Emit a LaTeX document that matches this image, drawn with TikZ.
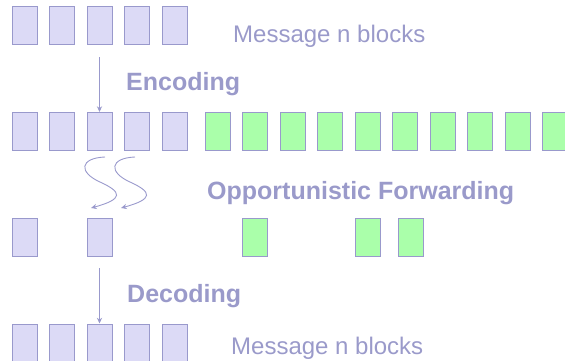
\documentclass[tikz,border=0pt]{standalone}
\usepackage{fontspec}
\setmainfont{Liberation Sans}
\usetikzlibrary{arrows.meta}
\definecolor{blockLine}{HTML}{9999CC}
\definecolor{blockFill}{HTML}{DCDAF6}
\definecolor{codeFill}{HTML}{AAFFAA}
\definecolor{labelText}{HTML}{9A9ACA}

\begin{document}
\begin{tikzpicture}[x=1pt, y=-1pt,
    bloque/.style={draw=blockLine, fill=blockFill, line width=1pt,
                   minimum width=25pt, minimum height=38pt, inner sep=0pt},
    cod/.style={bloque, fill=codeFill},
    rot/.style={anchor=base west, inner sep=0pt, text=labelText,
                font=\fontsize{24}{28}\selectfont},
    tit/.style={rot, font=\fontsize{25}{29}\selectfont\bfseries},
    fl/.style={-{Stealth[length=2mm, width=1.8mm]}, line width=0.9pt, color=blockLine}]
    \useasboundingbox (0,0) rectangle (565,360);
    \clip (0,0) rectangle (565,360);
    % mensaje original
    \foreach \i in {1,...,5}
      \node[bloque] (m\i) at ({24.5+37.5*(\i-1)},25) {};
    % mensaje codificado
    \foreach \i in {1,...,5}
      \node[bloque] (c\i) at ({24.5+37.5*(\i-1)},131.5) {};
    \foreach \i in {1,...,10}
      \node[cod] (g\i) at ({217.5+37.5*(\i-1)},131.5) {};
    % bloques recibidos
    \node[bloque] (r1) at (24.5,237) {};
    \node[bloque] (r2) at (99.5,237) {};
    \node[cod]    (r3) at (255,237)  {};
    \node[cod]    (r4) at (367.5,237) {};
    \node[cod]    (r5) at (410.5,237) {};
    % mensaje decodificado
    \foreach \i in {1,...,5}
      \node[bloque] (d\i) at ({24.5+37.5*(\i-1)},343) {};
    % textos
    \node[rot] (msgA) at (233,42)  {Message n blocks};
    \node[tit] (enc)  at (126,90)  {Encoding};
    \node[tit] (opp)  at (207,199) {Opportunistic Forwarding};
    \node[tit] (dec)  at (127,302) {Decoding};
    \node[rot] (msgB) at (231,354) {Message n blocks};
    % flechas
    \coordinate (encIn) at (99.5,57);
    \coordinate (decIn) at (99.5,268);
    \draw[fl] (encIn) -- (c3.north);
    \draw[fl] (decIn) -- (d3.north);
    \coordinate (s1) at (105,157);
    \coordinate (t1) at (91,208);
    \coordinate (s2) at (135,157);
    \coordinate (t2) at (121,208);
    \draw[fl] (s1) .. controls (80,158) and (78,172) .. (100,182)
                   .. controls (122,192) and (124,199) .. (t1);
    \draw[fl] (s2) .. controls (110,158) and (108,172) .. (130,182)
                   .. controls (152,192) and (154,199) .. (t2);
  \end{tikzpicture}
\end{document}
